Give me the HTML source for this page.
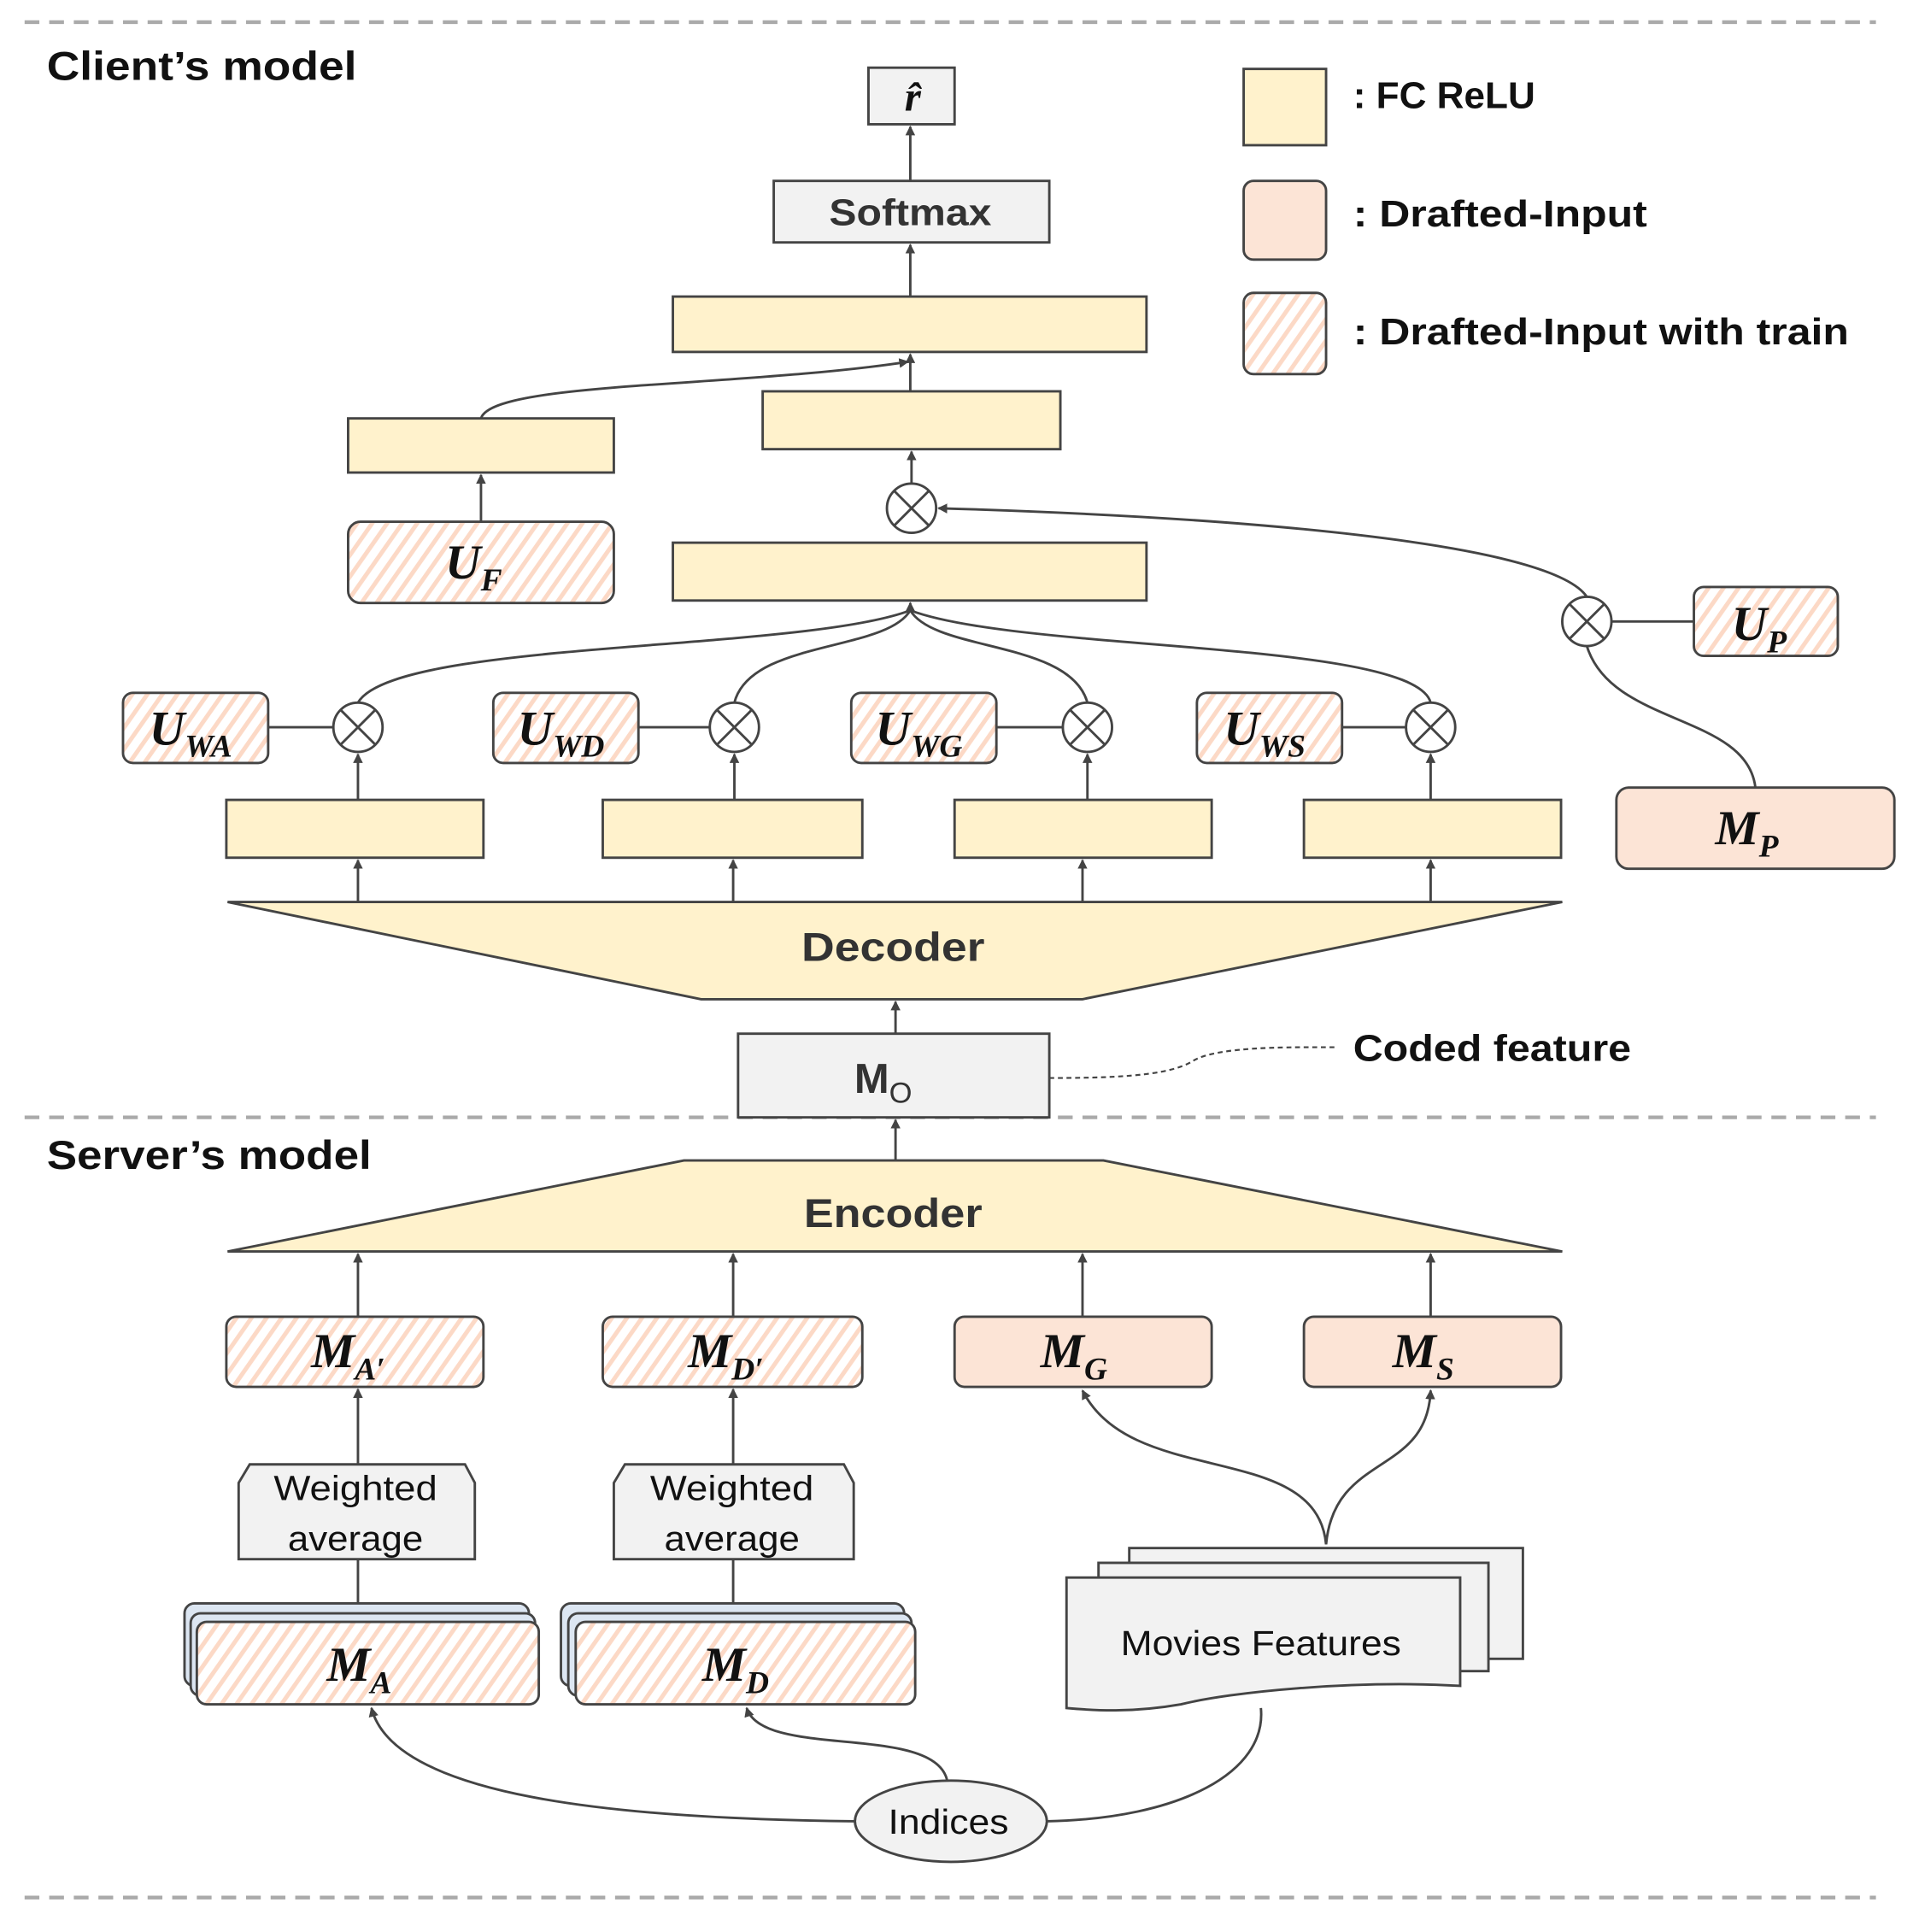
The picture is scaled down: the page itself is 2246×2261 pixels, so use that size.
<!DOCTYPE html>
<html><head><meta charset="utf-8"><style>html,body{margin:0;padding:0;background:#fff}svg{display:block}</style></head>
<body>
<svg width="2246" height="2261" viewBox="0 0 1560 1570" preserveAspectRatio="none" xmlns="http://www.w3.org/2000/svg">
<defs>
<pattern id="h" patternUnits="userSpaceOnUse" width="10" height="10" patternTransform="rotate(35)">
<rect width="10" height="10" fill="#fff"/><rect width="3.5" height="10" fill="#fcd9c6"/></pattern>
<marker id="a" markerWidth="8" markerHeight="8" refX="7" refY="4" orient="auto" markerUnits="userSpaceOnUse"><path d="M0,0 L8,4 L0,8 z" fill="#444"/></marker>
</defs>
<g stroke="#aaa" stroke-width="3" stroke-dasharray="12,8"><line x1="20" y1="18" x2="1525" y2="18"/><line x1="20" y1="908" x2="1525" y2="908"/><line x1="20" y1="1542" x2="1525" y2="1542"/></g>
<g font-family="Liberation Sans, sans-serif" font-weight="bold" fill="#111" lengthAdjust="spacingAndGlyphs">
<text x="38" y="65" font-size="33" textLength="252" lengthAdjust="spacingAndGlyphs">Client’s model</text>
<text x="38" y="950" font-size="33" textLength="264" lengthAdjust="spacingAndGlyphs">Server’s model</text>
<text x="1100" y="88" font-size="30" textLength="148" lengthAdjust="spacingAndGlyphs">: FC ReLU</text>
<text x="1100" y="184" font-size="30" textLength="239" lengthAdjust="spacingAndGlyphs">: Drafted-Input</text>
<text x="1100" y="280" font-size="30" textLength="403" lengthAdjust="spacingAndGlyphs">: Drafted-Input with train</text>
<text x="1100" y="862" font-size="30" textLength="226" lengthAdjust="spacingAndGlyphs">Coded feature</text>
</g>
<g stroke="#444" stroke-width="2">
<rect x="1011" y="56" width="67" height="62" fill="#fff2cc"/>
<rect x="1011" y="147" width="67" height="64" rx="8" fill="#fce4d6"/>
<rect x="1011" y="238" width="67" height="66" rx="8" fill="url(#h)"/>
<g fill="#fff2cc">
<rect x="547" y="241" width="385" height="45"/>
<rect x="620" y="318" width="242" height="47"/>
<rect x="283" y="340" width="216" height="44"/>
<rect x="547" y="441" width="385" height="47"/>
<rect x="184" y="650" width="209" height="47"/>
<rect x="490" y="650" width="211" height="47"/>
<rect x="776" y="650" width="209" height="47"/>
<rect x="1060" y="650" width="209" height="47"/>
<polygon points="185,733 1270,733 880,812 570,812"/>
<polygon points="185,1017 1270,1017 897,943 556,943"/>
</g>
<rect x="706" y="55" width="70" height="46" fill="#f2f2f2"/>
<rect x="629" y="147" width="224" height="50" fill="#f2f2f2"/>
<rect x="600" y="840" width="253" height="68" fill="#f2f2f2"/>
<g fill="url(#h)">
<rect x="283" y="424" width="216" height="66" rx="10"/>
<rect x="100" y="563" width="118" height="57" rx="8"/>
<rect x="401" y="563" width="118" height="57" rx="8"/>
<rect x="692" y="563" width="118" height="57" rx="8"/>
<rect x="973" y="563" width="118" height="57" rx="8"/>
<rect x="1377" y="477" width="117" height="56" rx="8"/>
<rect x="184" y="1070" width="209" height="57" rx="8"/>
<rect x="490" y="1070" width="211" height="57" rx="8"/>
</g>
<g fill="#fce4d6">
<rect x="1314" y="640" width="226" height="66" rx="10"/>
<rect x="776" y="1070" width="209" height="57" rx="8"/>
<rect x="1060" y="1070" width="209" height="57" rx="8"/>
</g>
<polygon points="203,1190 378,1190 386,1205 386,1267 194,1267 194,1205" fill="#f2f2f2"/>
<polygon points="508,1190 686,1190 694,1205 694,1267 499,1267 499,1205" fill="#f2f2f2"/>
<rect x="150" y="1303" width="280" height="67" rx="8" fill="#dce6f2"/>
<rect x="155" y="1311" width="280" height="67" rx="8" fill="#dce6f2"/>
<rect x="160" y="1318" width="278" height="67" rx="8" fill="url(#h)"/>
<rect x="456" y="1303" width="279" height="67" rx="8" fill="#dce6f2"/>
<rect x="462" y="1311" width="279" height="67" rx="8" fill="#dce6f2"/>
<rect x="468" y="1318" width="276" height="67" rx="8" fill="url(#h)"/>
<rect x="918" y="1258" width="320" height="90" fill="#f2f2f2"/>
<rect x="893" y="1270" width="317" height="88" fill="#f2f2f2"/>
<path d="M867,1282 H1187 V1370 C1100,1365 1000,1375 960,1385 C920,1392 890,1390 867,1388 Z" fill="#f2f2f2"/>
<ellipse cx="773" cy="1480" rx="78" ry="33" fill="#f2f2f2"/>
<g fill="#fff">
<circle cx="741" cy="413" r="20"/><circle cx="291" cy="591" r="20"/><circle cx="597" cy="591" r="20"/><circle cx="884" cy="591" r="20"/><circle cx="1163" cy="591" r="20"/><circle cx="1290" cy="505" r="20"/>
</g>
<path d="M727,399 l28,28 M755,399 l-28,28 M277,577 l28,28 M305,577 l-28,28 M583,577 l28,28 M611,577 l-28,28 M870,577 l28,28 M898,577 l-28,28 M1149,577 l28,28 M1177,577 l-28,28 M1276,491 l28,28 M1304,491 l-28,28"/>
</g>
<g stroke="#444" stroke-width="2" fill="none">
<line x1="740" y1="147" x2="740" y2="103" marker-end="url(#a)"/>
<line x1="740" y1="241" x2="740" y2="199" marker-end="url(#a)"/>
<line x1="740" y1="318" x2="740" y2="288" marker-end="url(#a)"/>
<path d="M391,340 C400,310 600,315 738,294" marker-end="url(#a)"/>
<line x1="391" y1="424" x2="391" y2="386" marker-end="url(#a)"/>
<line x1="741" y1="393" x2="741" y2="367" marker-end="url(#a)"/>
<path d="M1290,485 C1260,440 1000,420 763,413" marker-end="url(#a)"/>
<line x1="1310" y1="505" x2="1377" y2="505"/>
<path d="M1427,640 C1420,580 1310,590 1290,525"/>
<line x1="740" y1="496" x2="740" y2="490" marker-end="url(#a)"/>
<path d="M291,571 C320,520 650,530 740,496"/>
<path d="M597,571 C610,520 720,530 740,496"/>
<path d="M884,571 C870,520 760,530 740,496"/>
<path d="M1163,571 C1150,520 830,530 740,496"/>
<line x1="218" y1="591" x2="271" y2="591"/><line x1="519" y1="591" x2="577" y2="591"/><line x1="810" y1="591" x2="864" y2="591"/><line x1="1091" y1="591" x2="1143" y2="591"/>
<line x1="291" y1="650" x2="291" y2="613" marker-end="url(#a)"/><line x1="597" y1="650" x2="597" y2="613" marker-end="url(#a)"/><line x1="884" y1="650" x2="884" y2="613" marker-end="url(#a)"/><line x1="1163" y1="650" x2="1163" y2="613" marker-end="url(#a)"/>
<line x1="291" y1="733" x2="291" y2="699" marker-end="url(#a)"/><line x1="596" y1="733" x2="596" y2="699" marker-end="url(#a)"/><line x1="880" y1="733" x2="880" y2="699" marker-end="url(#a)"/><line x1="1163" y1="733" x2="1163" y2="699" marker-end="url(#a)"/>
<line x1="728" y1="840" x2="728" y2="814" marker-end="url(#a)"/>
<line x1="728" y1="943" x2="728" y2="910" marker-end="url(#a)"/>
<line x1="291" y1="1070" x2="291" y2="1019" marker-end="url(#a)"/><line x1="596" y1="1070" x2="596" y2="1019" marker-end="url(#a)"/><line x1="880" y1="1070" x2="880" y2="1019" marker-end="url(#a)"/><line x1="1163" y1="1070" x2="1163" y2="1019" marker-end="url(#a)"/>
<line x1="291" y1="1190" x2="291" y2="1129" marker-end="url(#a)"/><line x1="596" y1="1190" x2="596" y2="1129" marker-end="url(#a)"/>
<line x1="291" y1="1267" x2="291" y2="1303"/><line x1="596" y1="1267" x2="596" y2="1303"/>
<path d="M1078,1255 C1070,1170 920,1210 880,1130" marker-end="url(#a)"/>
<path d="M1078,1255 C1085,1180 1160,1200 1163,1130" marker-end="url(#a)"/>
<path d="M695,1480 C500,1478 320,1460 302,1388" marker-end="url(#a)"/>
<path d="M770,1447 C760,1400 620,1430 607,1388" marker-end="url(#a)"/>
<path d="M851,1480 C960,1478 1030,1440 1025,1388"/>
<path d="M853,876 C900,876 950,875 970,862 C990,850 1050,851 1085,851" stroke-dasharray="4,3" stroke-width="1.5"/>
</g>
<g font-family="Liberation Sans, sans-serif" font-weight="bold" fill="#333" text-anchor="middle">
<text x="740" y="183" font-size="30" textLength="132" lengthAdjust="spacingAndGlyphs">Softmax</text>
<text x="726" y="781" font-size="33" textLength="149" lengthAdjust="spacingAndGlyphs">Decoder</text>
<text x="726" y="997" font-size="33" textLength="145" lengthAdjust="spacingAndGlyphs">Encoder</text>
<text x="718" y="888" font-size="34">M<tspan font-size="24" dy="8" font-weight="normal">O</tspan></text>
</g>
<g font-family="Liberation Sans, sans-serif" fill="#111" text-anchor="middle" font-size="28">
<text x="289" y="1219" textLength="133" lengthAdjust="spacingAndGlyphs">Weighted</text><text x="289" y="1260" textLength="110" lengthAdjust="spacingAndGlyphs">average</text>
<text x="595" y="1219" textLength="133" lengthAdjust="spacingAndGlyphs">Weighted</text><text x="595" y="1260" textLength="110" lengthAdjust="spacingAndGlyphs">average</text>
<text x="1025" y="1345" textLength="228" lengthAdjust="spacingAndGlyphs">Movies Features</text>
<text x="771" y="1490" textLength="98" lengthAdjust="spacingAndGlyphs">Indices</text>
</g>
<g font-family="Liberation Serif, serif" font-weight="bold" font-style="italic" fill="#111" text-anchor="middle" font-size="40">
<text x="742" y="90" font-size="34">r̂</text>
<text x="385" y="470">U<tspan font-size="26" dy="10">F</tspan></text>
<text x="155" y="605">U<tspan font-size="26" dy="10">WA</tspan></text>
<text x="456" y="605">U<tspan font-size="26" dy="10">WD</tspan></text>
<text x="747" y="605">U<tspan font-size="26" dy="10">WG</tspan></text>
<text x="1028" y="605">U<tspan font-size="26" dy="10">WS</tspan></text>
<text x="1430" y="520">U<tspan font-size="26" dy="10">P</tspan></text>
<text x="1420" y="686">M<tspan font-size="26" dy="10">P</tspan></text>
<text x="283" y="1111">M<tspan font-size="26" dy="10">A′</tspan></text>
<text x="590" y="1111">M<tspan font-size="26" dy="10">D′</tspan></text>
<text x="873" y="1111">M<tspan font-size="26" dy="10">G</tspan></text>
<text x="1157" y="1111">M<tspan font-size="26" dy="10">S</tspan></text>
<text x="292" y="1366">M<tspan font-size="26" dy="10">A</tspan></text>
<text x="598" y="1366">M<tspan font-size="26" dy="10">D</tspan></text>
</g>
</svg>
</body></html>
